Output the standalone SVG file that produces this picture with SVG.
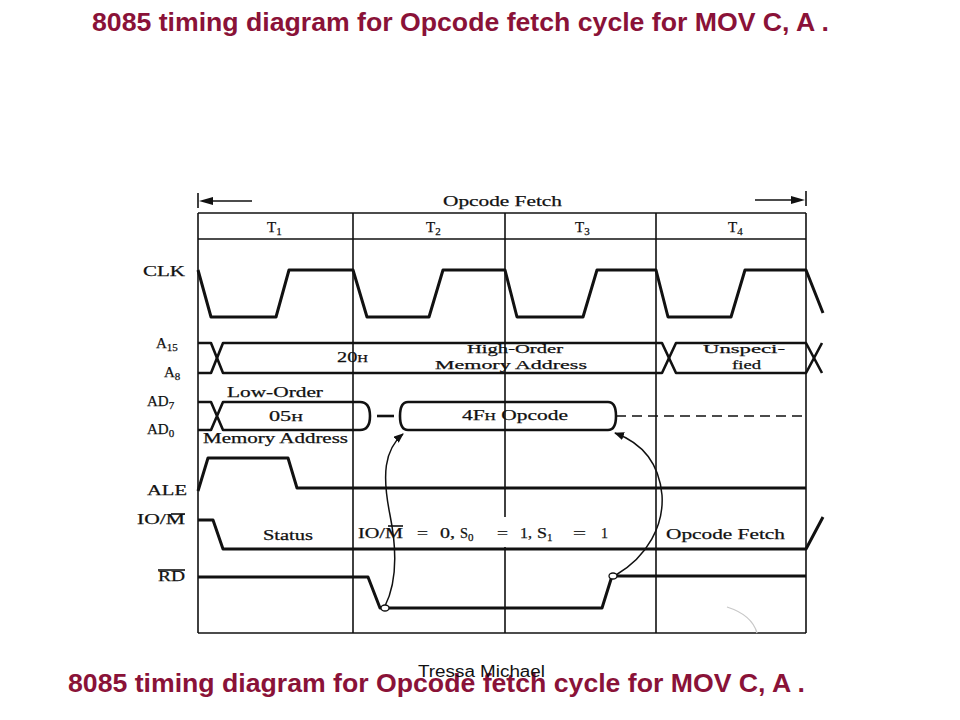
<svg xmlns="http://www.w3.org/2000/svg" width="960" height="720" viewBox="0 0 960 720">
<style>
.grid{stroke:#111;stroke-width:1.6;fill:none}
.sig{stroke:#111;stroke-width:3;fill:none;stroke-linejoin:round}
.bus{stroke:#111;stroke-width:2.6;fill:none;stroke-linejoin:round}
.lbl{font-family:"Liberation Serif","Times New Roman",serif;font-size:15px;fill:#111;stroke:#111;stroke-width:0.25}
.two{font-size:13px}
.sm{font-size:11px}
.title{font-family:"Liberation Sans",Arial,sans-serif;font-weight:bold;font-size:25px;fill:#8A1238}
.conn{stroke:#111;stroke-width:1.5;fill:none}
</style>
<defs>
<marker id="ah" markerWidth="10" markerHeight="8" refX="9" refY="4" orient="auto" markerUnits="userSpaceOnUse">
<path d="M0,0 L10,4 L0,8 Z" fill="#111"/>
</marker>
</defs>
<rect width="960" height="720" fill="#fff"/>

<text class="title" x="92" y="31" textLength="737" lengthAdjust="spacingAndGlyphs">8085 timing diagram for Opcode fetch cycle for MOV C, A .</text>

<g id="header">
<line class="grid" x1="198" y1="193" x2="198" y2="208"/>
<line class="grid" x1="205" y1="201" x2="252" y2="201"/>
<path d="M199,201 L213,197 L213,205 Z" fill="#111"/>
<line class="grid" x1="806" y1="191" x2="806" y2="206"/>
<line class="grid" x1="755" y1="200" x2="795" y2="200"/>
<path d="M805,200 L791,196 L791,204 Z" fill="#111"/>
<text class="lbl" x="443" y="206" textLength="119" lengthAdjust="spacingAndGlyphs">Opcode Fetch</text>
</g>

<g id="grid">
<line class="grid" x1="198" y1="213" x2="806" y2="213"/>
<line class="grid" x1="198" y1="239" x2="806" y2="239"/>
<line class="grid" x1="198" y1="633" x2="806" y2="633"/>
<line class="grid" x1="198" y1="213" x2="198" y2="633"/>
<line class="grid" x1="353" y1="213" x2="353" y2="633"/>
<line class="grid" x1="505" y1="213" x2="505" y2="517"/>
<line class="grid" x1="505" y1="547" x2="505" y2="633"/>
<line class="grid" x1="656" y1="213" x2="656" y2="633"/>
<line class="grid" x1="806" y1="213" x2="806" y2="633"/>
<text class="lbl" x="267" y="232">T<tspan class="sm" dy="3">1</tspan></text>
<text class="lbl" x="426" y="232">T<tspan class="sm" dy="3">2</tspan></text>
<text class="lbl" x="575" y="232">T<tspan class="sm" dy="3">3</tspan></text>
<text class="lbl" x="728" y="232">T<tspan class="sm" dy="3">4</tspan></text>
</g>

<g id="clk">
<text class="lbl" x="143" y="276" textLength="42" lengthAdjust="spacingAndGlyphs">CLK</text>
<path class="sig" d="M198,270 L211,317 L276,317 L289,270 L353,270 L367,317 L429,317 L443,270 L505,270 L517,317 L583,317 L597,270 L656,270 L668,317 L731,317 L745,270 L806,270 L823,313"/>
</g>

<g id="addr-high">
<text class="lbl" x="156" y="348">A<tspan class="sm" dy="3">15</tspan></text>
<text class="lbl" x="164" y="377">A<tspan class="sm" dy="3">8</tspan></text>
<path class="bus" d="M198,343 L211,343 L223,373 L662,373 L676,343 L806,343 L822,373"/>
<path class="bus" d="M198,373 L211,373 L223,343 L662,343 L676,373 L806,373 L822,343"/>
<text class="lbl" x="337" y="362" textLength="31" lengthAdjust="spacingAndGlyphs">20<tspan class="sm">H</tspan></text>
<text class="lbl two" x="467" y="353" textLength="96" lengthAdjust="spacingAndGlyphs">High-Order</text>
<text class="lbl two" x="435" y="369" textLength="152" lengthAdjust="spacingAndGlyphs">Memory  Address</text>
<text class="lbl two" x="703" y="353" textLength="82" lengthAdjust="spacingAndGlyphs">Unspeci-</text>
<text class="lbl two" x="732" y="369" textLength="29" lengthAdjust="spacingAndGlyphs">fied</text>
</g>

<g id="addr-low">
<text class="lbl" x="147" y="406">AD<tspan class="sm" dy="3">7</tspan></text>
<text class="lbl" x="147" y="434">AD<tspan class="sm" dy="3">0</tspan></text>
<path class="bus" d="M198,402 L211,402 L223,430 L360,430 Q370,430 370,416 Q370,402 360,402 L223,402 L211,430 L198,430"/>
<line class="bus" x1="377" y1="416" x2="394" y2="416"/>
<path class="bus" d="M408,402 Q400,402 400,416 Q400,430 408,430 L608,430 Q616,430 616,416 Q616,402 608,402 Z"/>
<line class="grid" x1="616" y1="416" x2="806" y2="416" stroke-dasharray="10,6"/>
<text class="lbl" x="227" y="397" textLength="96" lengthAdjust="spacingAndGlyphs">Low-Order</text>
<text class="lbl" x="269" y="421" textLength="34" lengthAdjust="spacingAndGlyphs">05<tspan class="sm">H</tspan></text>
<text class="lbl" x="203" y="443" textLength="145" lengthAdjust="spacingAndGlyphs">Memory Address</text>
<text class="lbl" x="462" y="420" textLength="106" lengthAdjust="spacingAndGlyphs">4F<tspan class="sm">H</tspan> Opcode</text>
</g>

<g id="ale">
<text class="lbl" x="147" y="495" textLength="40" lengthAdjust="spacingAndGlyphs">ALE</text>
<path class="sig" d="M198,491 L208,458 L288,458 L297,488 L806,488"/>
</g>

<g id="io-m">
<text class="lbl" x="137" y="524" textLength="48" lengthAdjust="spacingAndGlyphs">IO/M</text>
<line class="grid" x1="171" y1="514" x2="185" y2="514" stroke-width="1.3"/>
<path class="sig" d="M198,520 L213,520 L223,549 L806,549 L823,517"/>
<text class="lbl" x="263" y="540" textLength="50" lengthAdjust="spacingAndGlyphs">Status</text>
<text class="lbl" x="358" y="538" textLength="45" lengthAdjust="spacingAndGlyphs">IO/M</text>
<line class="grid" x1="388" y1="526" x2="403" y2="526" stroke-width="1.3"/>
<text class="lbl" x="417" y="538" textLength="11" lengthAdjust="spacingAndGlyphs">=</text>
<text class="lbl" x="440" y="538" textLength="15" lengthAdjust="spacingAndGlyphs">0,</text>
<text class="lbl" x="460" y="538" textLength="8" lengthAdjust="spacingAndGlyphs">S</text>
<text class="lbl sm" x="468" y="541">0</text>
<text class="lbl" x="497" y="538" textLength="11" lengthAdjust="spacingAndGlyphs">=</text>
<text class="lbl" x="520" y="538" textLength="12" lengthAdjust="spacingAndGlyphs">1,</text>
<text class="lbl" x="537" y="538" textLength="10" lengthAdjust="spacingAndGlyphs">S</text>
<text class="lbl sm" x="547" y="541">1</text>
<text class="lbl" x="573" y="538" textLength="13" lengthAdjust="spacingAndGlyphs">=</text>
<text class="lbl" x="601" y="538" textLength="7" lengthAdjust="spacingAndGlyphs">1</text>
<text class="lbl" x="666" y="539" textLength="119" lengthAdjust="spacingAndGlyphs">Opcode Fetch</text>
</g>

<g id="rd">
<text class="lbl" x="158" y="581" textLength="27" lengthAdjust="spacingAndGlyphs">RD</text>
<line class="grid" x1="158" y1="570" x2="185" y2="570" stroke-width="1.3"/>
<path class="sig" d="M198,577 L368,577 L380,608 L602,608 L612,576 L806,576"/>
</g>

<g id="connectors">
<path class="conn" d="M385,606 C398,580 396,545 390,515 C382,475 384,450 403,434" marker-end="url(#ah)"/>
<path class="conn" d="M616,575 C648,556 664,525 662,495 C659,462 642,443 615,433" marker-end="url(#ah)"/>
<ellipse cx="385" cy="608" rx="4" ry="3" fill="#fff" stroke="#111" stroke-width="1.3"/>
<ellipse cx="613" cy="576" rx="4" ry="3" fill="#fff" stroke="#111" stroke-width="1.3"/>
</g>

<path d="M727,607 Q752,615 757,633" stroke="#c8c8c8" stroke-width="1.3" fill="none"/>

<text class="title" x="68" y="692" textLength="737" lengthAdjust="spacingAndGlyphs">8085 timing diagram for Opcode fetch cycle for MOV C, A .</text>
<text x="418" y="677" font-family="Liberation Sans,Arial,sans-serif" font-size="16" fill="#111" textLength="127" lengthAdjust="spacingAndGlyphs">Tressa Michael</text>
</svg>
